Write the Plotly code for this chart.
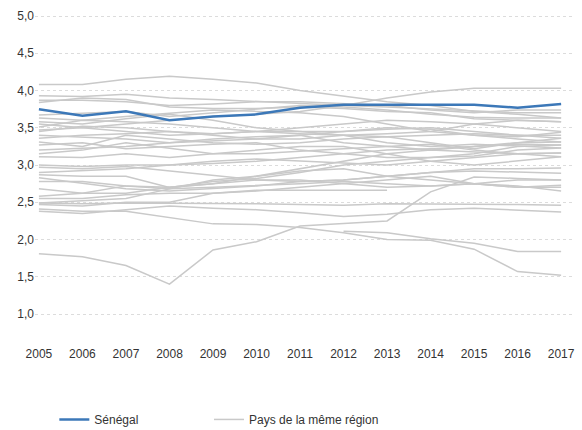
import plotly.graph_objects as go

years = list(range(2005, 2018))

senegal = [3.75, 3.66, 3.72, 3.60, 3.65, 3.68, 3.77, 3.81, 3.81, 3.81, 3.81, 3.77, 3.82]

N = None
region = [
    [4.08, 4.08, 4.15, 4.19, 4.15, 4.10, 4.00, 3.92, 3.85, 3.80, 3.72, 3.68, 3.63],
    [3.47, 3.50, 3.55, 3.60, 3.65, 3.68, 3.72, 3.80, 3.90, 3.98, 4.03, 4.03, 4.03],
    [3.93, 3.92, 3.95, 3.90, 3.88, 3.85, 3.82, 3.80, 3.78, 3.75, 3.72, 3.70, 3.70],
    [3.87, 3.87, 3.85, 3.80, 3.82, 3.85, 3.85, 3.83, 3.80, 3.74, 3.70, 3.74, 3.74],
    [3.84, 3.90, 3.88, 3.78, 3.76, 3.76, 3.78, 3.76, 3.72, 3.70, 3.62, 3.60, 3.58],
    [3.67, 3.70, 3.72, 3.65, 3.70, 3.75, 3.80, 3.78, 3.74, 3.68, 3.64, 3.63, 3.63],
    [3.63, 3.60, 3.65, 3.70, 3.74, 3.72, 3.70, 3.65, 3.55, 3.45, 3.40, 3.38, 3.44],
    [3.58, 3.55, 3.62, 3.68, 3.60, 3.50, 3.45, 3.45, 3.48, 3.50, 3.45, 3.40, 3.40],
    [3.51, 3.60, 3.58, 3.55, 3.50, 3.45, 3.42, 3.40, 3.38, 3.40, 3.42, 3.40, 3.36],
    [3.45, 3.52, 3.50, 3.45, 3.40, 3.35, 3.35, 3.40, 3.42, 3.45, 3.55, 3.50, 3.45],
    [3.36, 3.40, 3.42, 3.45, 3.42, 3.45, 3.45, 3.40, 3.30, 3.25, 3.28, 3.25, 3.23],
    [3.31, 3.25, 3.40, 3.35, 3.30, 3.28, 3.30, 3.35, 3.38, 3.30, 3.22, 3.30, 3.31],
    [3.27, 3.30, 3.22, 3.25, 3.28, 3.30, 3.20, 3.15, 3.10, 3.10, 3.15, 3.25, 3.27],
    [3.15, 3.20, 3.30, 3.22, 3.15, 3.15, 3.18, 3.22, 3.25, 3.28, 3.20, 3.15, 3.16],
    [3.11, 3.10, 3.15, 3.10, 3.15, 3.20, 3.25, 3.25, 3.15, 3.05, 3.00, 3.05, 3.11],
    [3.00, 2.98, 3.00, 3.00, 3.02, 3.05, 3.10, 3.15, 3.20, 3.22, 3.25, 3.30, 3.36],
    [2.97, 2.95, 2.98, 2.92, 2.85, 2.80, 2.78, 2.80, 2.85, 2.90, 2.95, 2.95, 2.96],
    [2.87, 2.85, 2.85, 2.70, 2.75, 2.85, 2.95, 3.05, 3.15, 3.20, 3.18, 3.15, 3.11],
    [2.83, 2.75, 2.68, 2.65, 2.68, 2.72, 2.78, 2.80, 2.85, 2.90, 2.92, 2.90, 2.89],
    [2.78, 2.78, 2.72, 2.68, 2.70, 2.72, 2.75, 2.78, 2.75, 2.72, 2.75, 2.80, 2.80],
    [2.68, 2.62, 2.72, 2.70, 2.78, 2.82, 2.90, 3.00, 3.05, 3.10, 3.12, 3.20, 3.23],
    [2.58, 2.62, 2.62, 2.70, 2.75, 2.80, 2.80, 2.75, 2.70, 2.72, 2.75, 2.70, 2.73],
    [2.49, 2.52, 2.55, 2.68, 2.80, 2.85, 2.92, 2.95, 2.85, 2.80, 2.75, 2.72, 2.65],
    [2.47, 2.45, 2.50, 2.50, 2.62, 2.65, 2.70, 2.75, 2.80, 2.85, 2.75, 2.70, 2.70],
    [2.41, 2.38, 2.38, 2.29, 2.21, 2.20, 2.16, 2.09, 2.00, 1.99, 1.87, 1.57, 1.52],
    [2.38, 2.35, 2.40, 2.45, 2.42, 2.40, 2.36, 2.31, 2.34, 2.40, 2.42, 2.40, 2.37],
    [1.81, 1.77, 1.65, 1.40, 1.86, 1.97, 2.18, 2.22, 2.25, 2.64, 2.84, 2.82, 2.80],
    [N, N, N, N, N, N, N, 2.11, 2.09, 2.01, 1.95, 1.84, 1.84],
    [2.55, 2.55, 2.60, 2.62, 2.62, 2.66, 2.66, 2.66, 2.66, N, N, N, N],
    [2.49, 2.48, 2.49, 2.49, 2.49, 2.48, 2.47, 2.46, 2.48, 2.48, 2.47, 2.47, 2.46],
    [3.40, 3.38, 3.35, 3.30, 3.32, 3.35, 3.40, 3.45, 3.50, 3.48, 3.40, 3.35, 3.31],
    [3.20, 3.22, 3.25, 3.30, 3.35, 3.38, 3.40, 3.30, 3.25, 3.20, 3.25, 3.28, 3.27],
    [2.90, 2.92, 2.95, 3.00, 3.05, 3.08, 3.05, 3.02, 3.00, 3.05, 3.10, 3.15, 3.16],
    [3.55, 3.50, 3.45, 3.40, 3.42, 3.45, 3.50, 3.55, 3.60, 3.58, 3.55, 3.60, 3.58],
]

y_ticks = [1.0, 1.5, 2.0, 2.5, 3.0, 3.5, 4.0, 4.5, 5.0]
y_tick_labels = ["1,0", "1,5", "2,0", "2,5", "3,0", "3,5", "4,0", "4,5", "5,0"]

GREY = "#c9c9c9"
BLUE = "#3c78b8"

fig = go.Figure()
for i, vals in enumerate(region):
    fig.add_trace(go.Scatter(
        x=years, y=vals, mode="lines",
        line=dict(color=GREY, width=1.5),
        name="Pays de la même région",
        legend="legend2",
        legendgroup="region", showlegend=(i == 0),
        connectgaps=False, hoverinfo="skip",
    ))

fig.add_trace(go.Scatter(
    x=years, y=senegal, mode="lines",
    line=dict(color=BLUE, width=2.5),
    name="Sénégal", legend="legend",
))

legend_common = dict(
    orientation="h", xanchor="left", y=-0.18, yanchor="top",
    font=dict(size=12, color="#333333"), bgcolor="rgba(0,0,0,0)",
)

fig.update_layout(
    width=582, height=430,
    margin=dict(l=35, r=10, t=12, b=85, autoexpand=False),
    paper_bgcolor="white", plot_bgcolor="white",
    font=dict(family="Liberation Sans, Arial, sans-serif", size=12, color="#333333"),
    showlegend=True,
    legend=dict(x=0.036, **legend_common),
    legend2=dict(x=0.324, **legend_common),
)

fig.update_xaxes(
    range=[2004.91, 2017.25], tickvals=years, ticktext=[str(y) for y in years],
    showgrid=False, zeroline=False, showline=False, ticks="", automargin=False,
    tickfont=dict(size=12, color="#333333"),
)
fig.update_yaxes(
    range=[0.584, 5.054], tickvals=y_ticks, ticktext=y_tick_labels,
    showgrid=True, gridcolor="#dcdcdc", griddash="dot", gridwidth=1,
    zeroline=False, showline=False, ticks="", automargin=False,
    tickfont=dict(size=12, color="#333333"),
)

fig.write_html(
    "out.html",
    config={"displayModeBar": False},
    post_script="document.body.style.margin='0';",
)
